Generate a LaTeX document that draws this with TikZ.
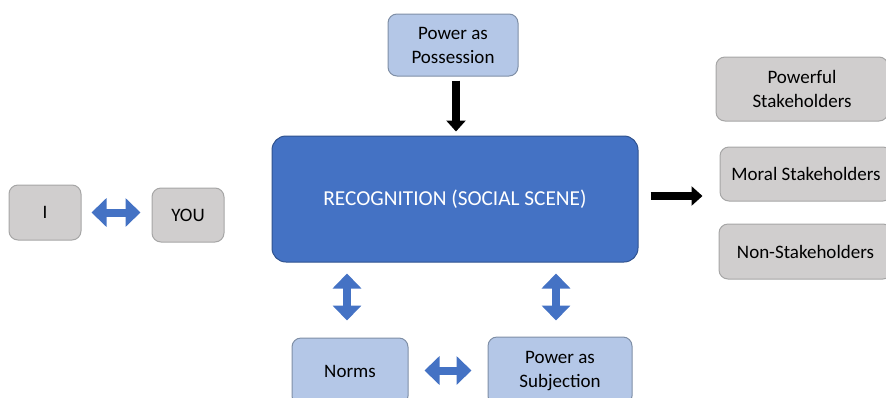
\documentclass[tikz,border=0pt]{standalone}
\usepackage{fontspec}
\setmainfont{Carlito}
\usetikzlibrary{arrows.meta}
\definecolor{boxgray}{HTML}{D0CECE}
\definecolor{edgegray}{HTML}{A6A6A6}
\definecolor{lightblue}{HTML}{B4C7E7}
\definecolor{midblue}{HTML}{4472C4}
\definecolor{darkblue}{HTML}{2F528F}
\definecolor{edgeblue}{HTML}{7F8FA6}
\tikzset{
  x=1pt, y=1pt,
  basebox/.style={rounded corners=9pt, line width=1pt, align=center,
    font=\fontsize{19}{24}\selectfont, inner sep=0pt},
  graybox/.style={basebox, draw=edgegray, fill=boxgray},
  bluebox/.style={basebox, draw=edgeblue, fill=lightblue},
  mainbox/.style={basebox, rounded corners=14pt, draw=darkblue, fill=midblue,
    text=white, font=\fontsize{21.3}{26}\selectfont},
  blackarrow/.style={line width=8.5pt, black,
    -{Triangle[width=19pt,length=11pt]}},
  bluearrow/.style={line width=8pt, midblue,
    {Triangle[width=28pt,length=15pt]}-{Triangle[width=28pt,length=15pt]}},
}
\begin{document}
\begin{tikzpicture}
\useasboundingbox (0,0) rectangle (886,-397);
\clip (0,0) rectangle (886,-397);

% self and other
\node[graybox, minimum width=72pt, minimum height=55pt] (i) at (45,-212.5) {I};
\node[graybox, minimum width=72pt, minimum height=54pt] (you) at (188,-215) {YOU};

% central scene and its inputs
\node[bluebox, minimum width=130pt, minimum height=62pt] (poss) at (453,-45) {Power as\\Possession};
\node[mainbox, minimum width=366pt, minimum height=126pt] (main) at (455,-199) {RECOGNITION (SOCIAL SCENE)};
\node[bluebox, minimum width=116pt, minimum height=67pt] (norms) at (350,-371.5) {Norms};
\node[bluebox, minimum width=144pt, minimum height=68pt] (subj) at (560,-371) {Power as\\Subjection};

% stakeholder groups
\node[graybox, minimum width=172pt, minimum height=64pt] (pw) at (802,-89) {Powerful\\Stakeholders};
\node[graybox, minimum width=172pt, minimum height=54pt] (moral) at (806,-174) {Moral Stakeholders};
\node[graybox, minimum width=173pt, minimum height=55pt] (non) at (805.5,-251.5) {Non-Stakeholders};

% connectors
\draw[bluearrow, shorten <=10pt, shorten >=11pt] (i) -- (i -| you.west);
\draw[blackarrow, shorten <=4pt, shorten >=4pt] ([xshift=3pt]poss.south) -- ([xshift=3pt]poss.south |- main.north);
\draw[blackarrow, shorten <=12pt, shorten >=17pt] ([yshift=3pt]main.east) -- ([yshift=3pt]main.east -| moral.west);
\draw[bluearrow, shorten <=11pt, shorten >=17pt] ([xshift=-3pt]main.south -| norms) -- ([xshift=-3pt]norms.north);
\draw[bluearrow, shorten <=11pt, shorten >=16pt] ([xshift=-4pt]main.south -| subj) -- ([xshift=-4pt]subj.north);
\draw[bluearrow, shorten <=16pt, shorten >=16pt] ([yshift=1pt]norms.east) -- ([yshift=1pt]norms.east -| subj.west);
\end{tikzpicture}
\end{document}
